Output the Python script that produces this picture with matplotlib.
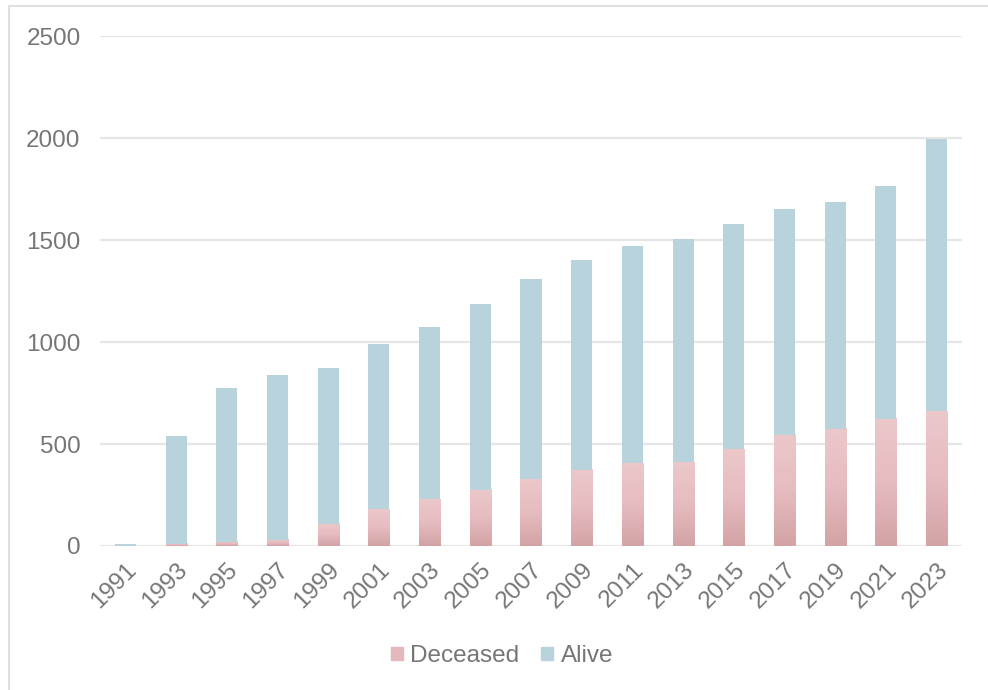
import numpy as np
import matplotlib.pyplot as plt
from matplotlib.patches import Rectangle
from matplotlib.colors import LinearSegmentedColormap

plt.rcParams['font.family'] = ['Liberation Sans', 'DejaVu Sans']

years = ['1991', '1993', '1995', '1997', '1999', '2001', '2003', '2005', '2007',
         '2009', '2011', '2013', '2015', '2017', '2019', '2021', '2023']
deceased = [0, 10, 20, 30, 110, 180, 230, 275, 330, 375, 405, 410, 475, 545, 575, 625, 660]
total = [10, 540, 775, 840, 875, 990, 1075, 1185, 1310, 1400, 1470, 1505, 1580, 1650, 1685, 1765, 1995]
alive = [t - d for t, d in zip(total, deceased)]

alive_color = '#B8D3DC'
text_color = '#767676'
grid_color = '#E6E6E6'
pink = LinearSegmentedColormap.from_list('pink', ['#D3A3A5', '#E6BCC0', '#ECC8CB'])

fig = plt.figure(figsize=(9.88, 6.9), dpi=100)
ax = fig.add_axes([0.1012, 0.2087, 0.8725, 0.7391])

x = np.arange(len(years))
w = 0.415

# deceased bars with a vertical gradient, light at the top and darker at the base
grad = np.linspace(0, 1, 256).reshape(-1, 1)
for xi, d in zip(x, deceased):
    if d <= 0:
        continue
    ax.imshow(grad, cmap=pink, extent=(xi - w / 2, xi + w / 2, 0, d),
              origin='lower', aspect='auto', zorder=2, interpolation='bilinear')
ax.bar(x, alive, w, bottom=deceased, color=alive_color, zorder=2, label='Alive')

ax.set_xlim(-0.5, len(years) - 0.5)
ax.set_ylim(0, 2500)
ax.set_yticks(range(0, 2501, 500))
ax.set_xticks(x)
ax.set_xticklabels(years, rotation=45, ha='right', rotation_mode='anchor')
ax.grid(axis='y', color=grid_color, linewidth=1.6, zorder=0)
ax.set_axisbelow(True)
for s in ax.spines.values():
    s.set_visible(False)
ax.tick_params(length=0, colors=text_color, labelsize=17.5)
ax.tick_params(axis='y', pad=14)
ax.tick_params(axis='x', pad=9)

# legend entries
dec_handle = Rectangle((0, 0), 1, 1, color='#E4B8BC')
alive_handle = Rectangle((0, 0), 1, 1, color=alive_color)
fig.legend([dec_handle, alive_handle], ['Deceased', 'Alive'], loc='center',
           bbox_to_anchor=(0.508, 0.049), ncol=2, frameon=False, fontsize=17.5,
           labelcolor=text_color, handlelength=0.5, handleheight=0.5,
           handletextpad=0.3, columnspacing=0.9)

# chart border
fig.patches.append(Rectangle((9 / 988, -0.1), 1.2, (684 / 690) + 0.1,
                             transform=fig.transFigure, fill=False,
                             edgecolor='#E0E0E0', linewidth=1.5))

fig.savefig('out.png', dpi=100)
